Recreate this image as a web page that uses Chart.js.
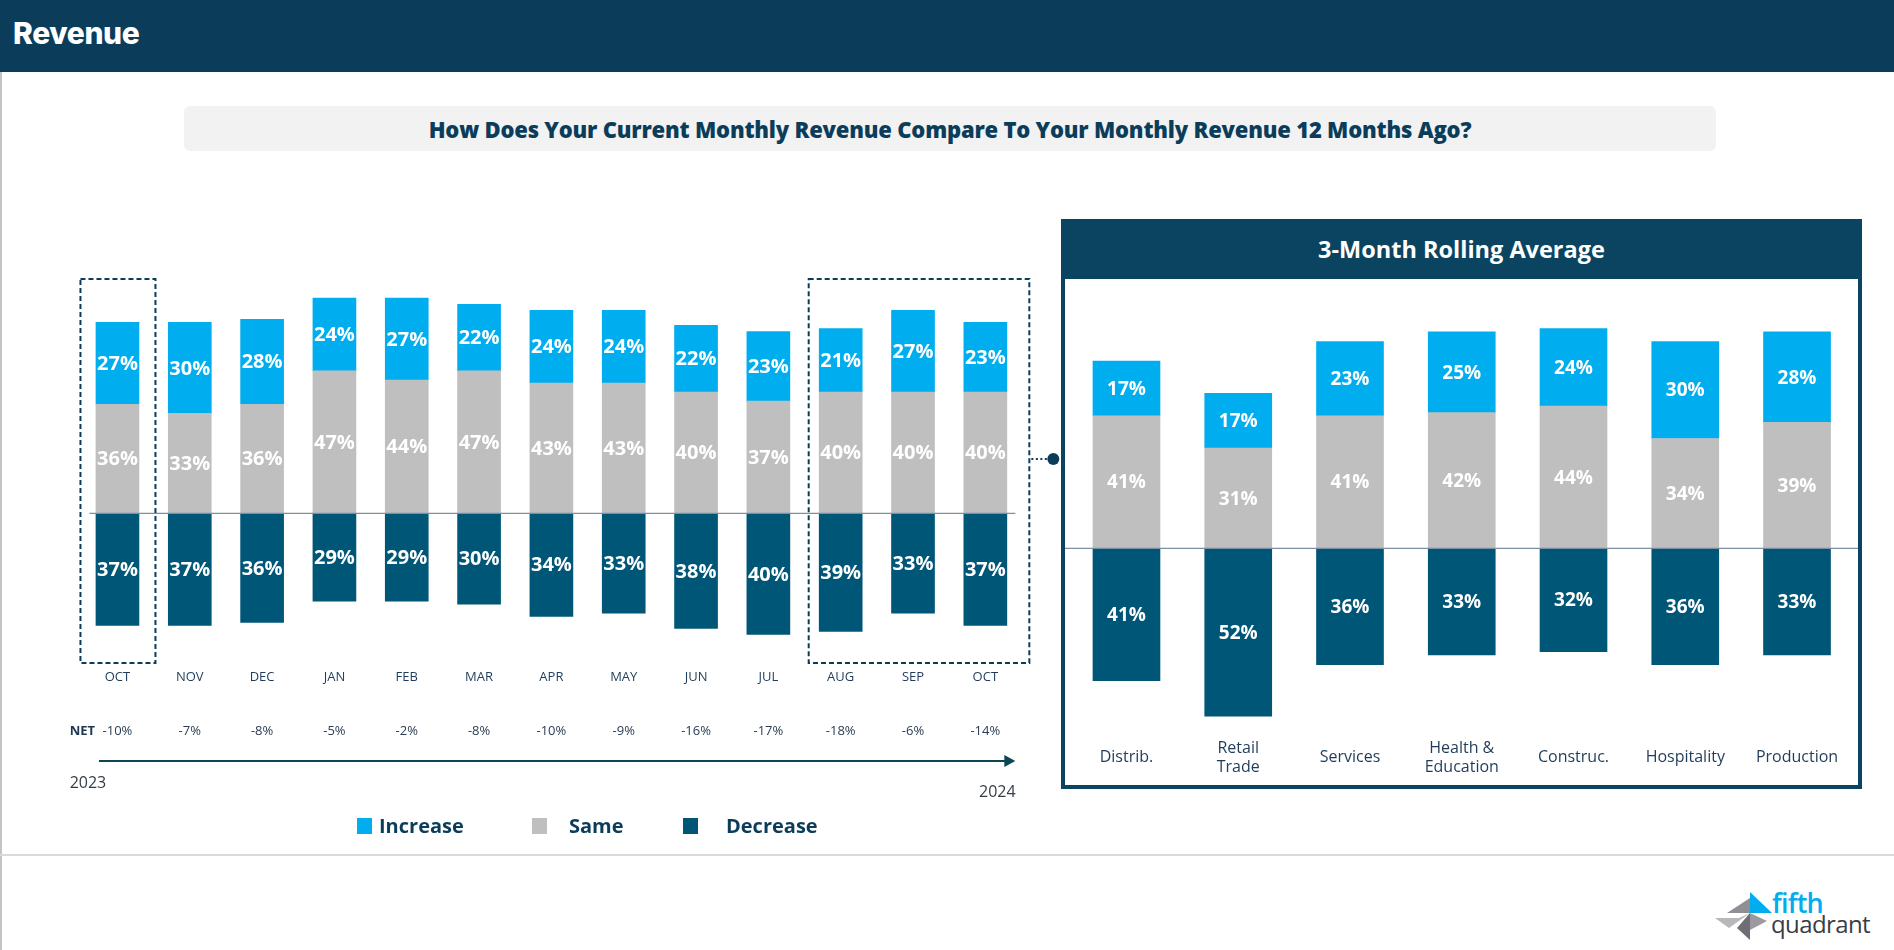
<!DOCTYPE html>
<html><head><meta charset="utf-8">
<script src="https://cdn.jsdelivr.net/npm/chart.js@4.4.1/dist/chart.umd.min.js"></script>
<style>
html,body{margin:0;padding:0;width:1894px;height:950px;overflow:hidden;background:#fff;font-family:'Open Sans',sans-serif;}
.abs{position:absolute}
#hdr{left:0;top:0;width:1894px;height:72px;background:#0b3d5b;}
#hdr span{position:absolute;left:13px;top:15px;font-family:Inter,'Open Sans',sans-serif;font-weight:800;font-size:30px;color:#fff;letter-spacing:-0.4px}
#lborder{left:0;top:72px;width:2px;height:878px;background:#c4c4c4}
#bline{left:0;top:854px;width:1894px;height:1.5px;background:#dadada}
#sub{left:184px;top:106px;width:1532px;height:45px;background:#f2f2f2;border-radius:6px;display:flex;align-items:center;justify-content:center;font-weight:800;font-size:22px;color:#0b3d5b;letter-spacing:-0.2px}
#phead{left:1061px;top:219px;width:801px;height:60px;background:#0b4460;color:#fff;font-weight:700;font-size:23.5px;display:flex;align-items:center;justify-content:center}
#pbox{left:1061px;top:279px;width:801px;height:510px;box-sizing:border-box;border:4px solid #0b4460;border-top:none}
#cL{left:0;top:200px}
#cR{left:1065px;top:279px}
.lg-sw{position:absolute;width:15px;height:16px}
.lg-tx{position:absolute;font-weight:700;font-size:20px;color:#0b3d5b;line-height:20px}
#logo{left:1715px;top:888px;width:170px;height:56px}
</style></head>
<body>
<div id="hdr" class="abs"><span>Revenue</span></div>
<div id="lborder" class="abs"></div>
<div id="bline" class="abs"></div>
<div id="sub" class="abs">How Does Your Current Monthly Revenue Compare To Your Monthly Revenue 12 Months Ago?</div>
<div id="phead" class="abs">3-Month Rolling Average</div>
<div id="pbox" class="abs"></div>
<canvas id="cL" class="abs" width="1060" height="650"></canvas>
<canvas id="cR" class="abs" width="793" height="506"></canvas>
<div id="legend"></div>
<svg id="logo" class="abs" viewBox="0 0 170 56">
  <polygon points="35,4 57,25 35,25" fill="#00aeef"/>
  <polygon points="12,25 35,25 35,10" fill="#8f8f94"/>
  <polygon points="0,30 24,30 35,25 14,40" fill="#b8b8bc"/>
  <polygon points="35,25 35,52 22,40" fill="#6e6e74"/>
  <polygon points="35,25 52,33 35,42" fill="#9a9aa0"/>
  <text x="57" y="25" font-family="Open Sans" font-size="27" font-weight="600" fill="#00aeef" letter-spacing="-0.8">fifth</text>
  <text x="56" y="45" font-family="Open Sans" font-size="24" fill="#3b3b46" letter-spacing="-0.6">quadrant</text>
</svg>
<script>
// ---------- DATA ----------
const months = ['OCT','NOV','DEC','JAN','FEB','MAR','APR','MAY','JUN','JUL','AUG','SEP','OCT'];
const monthIncrease = [27,30,28,24,27,22,24,24,22,23,21,27,23];
const monthSame     = [36,33,36,47,44,47,43,43,40,37,40,40,40];
const monthDecrease = [37,37,36,29,29,30,34,33,38,40,39,33,37];
const monthNet      = [-10,-7,-8,-5,-2,-8,-10,-9,-16,-17,-18,-6,-14];
const yearStart = '2023', yearEnd = '2024';

const sectors = ['Distrib.',['Retail','Trade'],'Services',['Health &','Education'],'Construc.','Hospitality','Production'];
const sectorIncrease = [17,17,23,25,24,30,28];
const sectorSame     = [41,31,41,42,44,34,39];
const sectorDecrease = [41,52,36,33,32,36,33];

const seriesNames = ['Increase','Same','Decrease'];
// ---------- STYLE ----------
const COL = {Increase:'#00aeef', Same:'#bfbfbf', Decrease:'#005677'};
const NAVY = '#0b3d5b';

// legend
(function(){
  const pos = [[357,379],[532,569],[683,726]];
  const lg = document.getElementById('legend');
  seriesNames.forEach((n,i)=>{
    const s=document.createElement('div'); s.className='lg-sw'; s.style.left=pos[i][0]+'px'; s.style.top='818px'; s.style.background=COL[n]; lg.appendChild(s);
    const t=document.createElement('div'); t.className='lg-tx'; t.style.left=pos[i][1]+'px'; t.style.top='816px'; t.textContent=n; lg.appendChild(t);
  });
})();

function makeDatasets(inc, same, dec){
  return [
    {label:'Same', data:same, backgroundColor:COL.Same},
    {label:'Increase', data:inc, backgroundColor:COL.Increase},
    {label:'Decrease', data:dec.map(v=>-v), backgroundColor:COL.Decrease}
  ];
}

function labelPlugin(fontSize){
  return {
    id:'vals'+fontSize,
    afterDatasetsDraw(chart){
      const ctx=chart.ctx; ctx.save();
      ctx.font='bold '+fontSize+'px "Open Sans"';
      ctx.fillStyle='#ffffff'; ctx.textAlign='center'; ctx.textBaseline='middle';
      chart.data.datasets.forEach((ds,di)=>{
        const meta=chart.getDatasetMeta(di);
        meta.data.forEach((bar,i)=>{
          const v=Math.abs(ds.data[i]);
          ctx.fillText(v+'%', bar.x, (bar.y+bar.base)/2+1);
        });
      });
      ctx.restore();
    }
  };
}

const leftDecor = {
  id:'leftDecor',
  afterDatasetsDraw(chart){
    const ctx=chart.ctx, xs=chart.scales.x, ys=chart.scales.y;
    const z=ys.getPixelForValue(0);
    ctx.save();
    // zero line
    ctx.strokeStyle='#7d8fa5'; ctx.lineWidth=1.2;
    ctx.beginPath(); ctx.moveTo(xs.getPixelForValue(0)-28, z); ctx.lineTo(xs.getPixelForValue(12)+30, z); ctx.stroke();
    // dashed boxes
    ctx.strokeStyle=NAVY; ctx.lineWidth=2; ctx.setLineDash([5,3]);
    const top=z-234.3, bot=z+149.7;
    ctx.strokeRect(xs.getPixelForValue(0)-37, top, 75, bot-top);
    ctx.strokeRect(xs.getPixelForValue(10)-32, top, xs.getPixelForValue(12)+44-(xs.getPixelForValue(10)-32), bot-top);
    // connector
    const cy=z-54.3, cx0=xs.getPixelForValue(12)+46;
    ctx.setLineDash([2,2.5]); ctx.lineWidth=2;
    ctx.beginPath(); ctx.moveTo(cx0,cy); ctx.lineTo(cx0+17,cy); ctx.stroke();
    ctx.setLineDash([]);
    ctx.fillStyle=NAVY; ctx.beginPath(); ctx.arc(cx0+22,cy,6,0,Math.PI*2); ctx.fill();
    // NET row
    const netY=531.7;
    ctx.textAlign='center'; ctx.textBaseline='middle';
    ctx.font='bold 13px "Open Sans"'; ctx.fillStyle='#1f3550';
    ctx.fillText('NET', xs.getPixelForValue(0)-35, netY);
    ctx.font='13px "Open Sans"'; ctx.fillStyle='#2a3d52';
    monthNet.forEach((v,i)=>ctx.fillText(v+'%', xs.getPixelForValue(i), netY));
    // arrow
    const ay=561, ax0=xs.getPixelForValue(0)-18.5, ax1=xs.getPixelForValue(12)+30;
    ctx.strokeStyle='#0c4656'; ctx.fillStyle='#0c4656'; ctx.lineWidth=2;
    ctx.beginPath(); ctx.moveTo(ax0,ay); ctx.lineTo(ax1-8,ay); ctx.stroke();
    ctx.beginPath(); ctx.moveTo(ax1-11,ay-6); ctx.lineTo(ax1,ay); ctx.lineTo(ax1-11,ay+6); ctx.closePath(); ctx.fill();
    // years
    ctx.font='16px "Open Sans"'; ctx.fillStyle='#333d47';
    ctx.fillText(yearStart, xs.getPixelForValue(0)-29.5, 583);
    ctx.fillText(yearEnd, xs.getPixelForValue(12)+12, 592);
    ctx.restore();
  }
};

const rightDecor = {
  id:'rightDecor',
  afterDatasetsDraw(chart){
    const ctx=chart.ctx, ys=chart.scales.y;
    const z=ys.getPixelForValue(0);
    ctx.save(); ctx.strokeStyle='#7d8fa5'; ctx.lineWidth=1.2;
    ctx.beginPath(); ctx.moveTo(0,z); ctx.lineTo(chart.width,z); ctx.stroke(); ctx.restore();
  }
};

Chart.defaults.font.family='"Open Sans"';

new Chart(document.getElementById('cL'), {
  type:'bar',
  data:{labels:months, datasets:makeDatasets(monthIncrease, monthSame, monthDecrease)},
  options:{
    responsive:false, animation:false,
    layout:{padding:{left:81.3,right:38.5,top:40.6,bottom:163.4}},
    datasets:{bar:{barThickness:43, borderWidth:0}},
    scales:{
      x:{stacked:true, grid:{display:false}, border:{display:false},
         ticks:{color:'#1f3c5a', font:{size:13}, padding:14.7, maxRotation:0, autoSkip:false},
         afterFit(a){a.height=40;}},
      y:{stacked:true, display:false, min:-44, max:90}
    },
    plugins:{legend:{display:false}, tooltip:{enabled:false}}
  },
  plugins:[leftDecor, labelPlugin(20)]
});

new Chart(document.getElementById('cR'), {
  type:'bar',
  data:{labels:sectors, datasets:makeDatasets(sectorIncrease, sectorSame, sectorDecrease)},
  options:{
    responsive:false, animation:false,
    layout:{padding:{left:5.6,right:5.1,top:10.9,bottom:0.05}},
    datasets:{bar:{barThickness:67, borderWidth:0}},
    scales:{
      x:{stacked:true, grid:{display:false}, border:{display:false},
         ticks:{color:'#1f3c5a', font:{size:16, lineHeight:1.19}, padding:14, maxRotation:0, autoSkip:false, crossAlign:'center'},
         afterFit(a){a.height=59;}},
      y:{stacked:true, display:false, min:-55, max:80}
    },
    plugins:{legend:{display:false}, tooltip:{enabled:false}}
  },
  plugins:[rightDecor, labelPlugin(19)]
});
</script>
</body></html>
